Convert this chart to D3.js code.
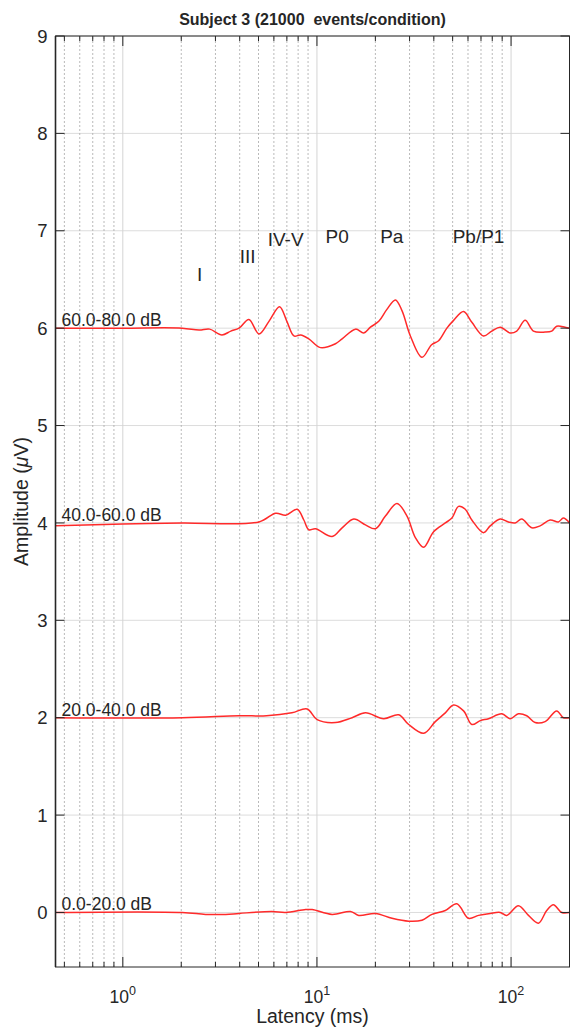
<!DOCTYPE html>
<html>
<head>
<meta charset="utf-8">
<script src="https://cdn.jsdelivr.net/npm/d3@7"></script>
<style>
  body { margin: 0; background: #fff; }
  text { font-family: "Liberation Sans", Arial, sans-serif; fill: #262626; }
</style>
</head>
<body>
<div id="chart"></div>
<script>
// condition labels and their vertical offsets (uV)
var conditions = ["0.0-20.0 dB", "20.0-40.0 dB", "40.0-60.0 dB", "60.0-80.0 dB"];
var offsets = [0, 2, 4, 6];

// waveforms: [latency ms, amplitude uV]
var wave0 = [[0.45,0],[2.02,0.0],[2.67,-0.02],[3.39,-0.02],[3.97,-0.01],[5.86,0.01],[6.9,0.0],[8.74,0.03],[9.45,0.03],
  [11.97,-0.02],[14.89,0.01],[16.42,-0.03],[20.01,-0.01],[24.36,-0.06],[29.69,-0.09],[34.75,-0.08],[39.11,-0.02],
  [45.84,0.02],[52.58,0.09],[60.4,-0.06],[68,-0.03],[78.08,-0.01],[87.9,0.0],[95,-0.03],[109.1,0.07],[122.9,-0.03],
  [138.3,-0.11],[152.6,0.02],[165.2,0.08],[182.3,0.0],[200,0.0]];
var wave1 = [[0.45,0],[2.02,0.0],[3.97,0.02],[5.5,0.02],[7.43,0.05],[8.9,0.09],[10.02,-0.02],[12.46,-0.05],[15.17,0.0],
  [17.78,0.05],[22.08,-0.01],[26.37,0.03],[29.69,-0.07],[35.45,-0.16],[40.72,-0.04],[45.84,0.05],[50.57,0.13],
  [56.93,0.07],[62.8,-0.07],[69.37,-0.03],[76.53,-0.01],[89.6,0.04],[98.95,-0.01],[109.1,0.04],[120.4,0.02],
  [133,-0.05],[149.8,-0.04],[171.8,0.07],[185.9,0.0],[200,0.0]];
var wave2 = [[0.45,-0.03],[1,-0.01],[2.02,0.0],[5.03,0.01],[6.13,0.10],[6.9,0.08],[7.91,0.14],[8.56,0.03],[9.08,-0.07],
  [9.83,-0.06],[11.97,-0.14],[13.48,-0.05],[15.48,0.04],[17.78,-0.02],[20.01,-0.06],[22.53,0.07],[25.85,0.20],
  [29.1,0.07],[32.13,-0.15],[35.45,-0.25],[39.9,-0.09],[45.84,0.0],[49.56,0.05],[53.65,0.17],[58.08,0.14],
  [62.8,0.03],[72.13,-0.10],[78.08,-0.03],[87.9,0.04],[96.97,0.01],[105,0.0],[113.5,0.04],[127.8,-0.05],
  [141.1,-0.03],[158.9,0.03],[175.3,0.01],[185.9,0.05],[200,0.0]];
var wave3 = [[0.45,0],[1,0.0],[2.02,0.0],[2.47,-0.02],[2.8,-0.01],[3.24,-0.07],[3.6,-0.03],[3.97,0.0],[4.46,0.09],
  [5.03,-0.06],[5.66,0.07],[6.42,0.22],[7.0,0.07],[7.61,-0.08],[8.24,-0.07],[9.08,-0.11],[10.43,-0.20],[12.46,-0.16],
  [13.48,-0.11],[15.8,-0.01],[17.42,-0.05],[18.86,0.01],[20.82,0.07],[22.88,0.19],[25.36,0.29],[27.42,0.18],
  [30.29,-0.08],[34.75,-0.30],[38.96,-0.17],[42.34,-0.13],[46.71,0.0],[50.57,0.08],[56.93,0.17],[62.8,0.06],
  [72.13,-0.08],[79.58,-0.03],[87.9,0.01],[98.95,-0.05],[106.97,-0.03],[118.2,0.08],[130.4,-0.03],[149.8,-0.04],
  [161.9,-0.03],[171.8,0.02],[189.7,0.01],[200,0.0]];
var waves = [wave0, wave1, wave2, wave3];

// peak labels (latency ms, amplitude uV)
var peakNames = ["I", "III", "IV-V", "P0", "Pa", "Pb/P1"];
var peakLat = [2.49, 4.4, 6.9, 12.7, 24.3, 68];
var peakAmp = [6.48, 6.67, 6.84, 6.875, 6.875, 6.875];

var yTicks = [0, 1, 2, 3, 4, 5, 6, 7, 8, 9];
var decades = [1, 10, 100];
var minorTicks = [0.5,0.6,0.7,0.8,0.9,2,3,4,5,6,7,8,9,20,30,40,50,60,70,80,90,200];

var W = 570, H = 1031;
var margin = {top: 36, right: 0.5, bottom: 64, left: 55.5};

var svg = d3.select("#chart").append("svg")
    .attr("width", W).attr("height", H);

var x = d3.scaleLog().domain([0.45, 200]).range([margin.left, W - margin.right]);
var y = d3.scaleLinear().domain([-0.56, 9]).range([H - margin.bottom, margin.top]);

var x0 = x.range()[0], x1 = x.range()[1], y0 = y.range()[0], y1 = y.range()[1];

// grid
var grid = svg.append("g");
grid.selectAll(".hg").data(yTicks).enter().append("line")
    .attr("x1", x0).attr("x2", x1)
    .attr("y1", d => y(d)).attr("y2", d => y(d))
    .attr("stroke", "#dcdcdc").attr("stroke-width", 1);
grid.selectAll(".vg").data(decades).enter().append("line")
    .attr("x1", d => x(d)).attr("x2", d => x(d))
    .attr("y1", y0).attr("y2", y1)
    .attr("stroke", "#d4d4d4").attr("stroke-width", 1);
grid.selectAll(".vm").data(minorTicks).enter().append("line")
    .attr("x1", d => x(d)).attr("x2", d => x(d))
    .attr("y1", y0).attr("y2", y1)
    .attr("stroke", "#a8a8a8").attr("stroke-width", 0.8)
    .attr("stroke-dasharray", "2,2");

// waveforms
var line = d3.line()
    .x(d => x(d[0]))
    .y(d => y(d[1]))
    .curve(d3.curveCatmullRom.alpha(0.5));

waves.forEach(function(w, i) {
  var pts = w.map(p => [p[0], p[1] + offsets[i]]);
  svg.append("path")
    .attr("d", line(pts))
    .attr("fill", "none")
    .attr("stroke", "#ff2a2a")
    .attr("stroke-width", 1.5);
});

// frame and ticks
var ax = svg.append("g").attr("stroke", "#262626");
ax.append("rect")
    .attr("x", x0).attr("y", y1)
    .attr("width", x1 - x0).attr("height", y0 - y1)
    .attr("fill", "none").attr("stroke-width", 1);
ax.append("line").attr("x1", x0).attr("x2", x0).attr("y1", y1).attr("y2", y0).attr("stroke-width", 1.6);

yTicks.forEach(function(t) {
  ax.append("line").attr("x1", x0).attr("x2", x0 + 9).attr("y1", y(t)).attr("y2", y(t));
  ax.append("line").attr("x1", x1 - 9).attr("x2", x1).attr("y1", y(t)).attr("y2", y(t));
});
decades.forEach(function(t) {
  ax.append("line").attr("x1", x(t)).attr("x2", x(t)).attr("y1", y0).attr("y2", y0 - 10);
  ax.append("line").attr("x1", x(t)).attr("x2", x(t)).attr("y1", y1).attr("y2", y1 + 10);
});
minorTicks.forEach(function(t) {
  ax.append("line").attr("x1", x(t)).attr("x2", x(t)).attr("y1", y0).attr("y2", y0 - 5);
  ax.append("line").attr("x1", x(t)).attr("x2", x(t)).attr("y1", y1).attr("y2", y1 + 5);
});

// tick labels
svg.selectAll(".yl").data(yTicks).enter().append("text")
    .attr("x", x0 - 8).attr("y", d => y(d))
    .attr("dy", "0.36em")
    .attr("text-anchor", "end")
    .attr("font-size", 18.5)
    .text(d => d);

decades.forEach(function(t, i) {
  var tx = svg.append("text")
    .attr("x", x(t)).attr("y", y0 + 36)
    .attr("text-anchor", "middle")
    .attr("font-size", 17.5);
  tx.append("tspan").text("10");
  tx.append("tspan").attr("font-size", 12.5).attr("dy", -8).text(i);
});

// axis titles
svg.append("text")
    .attr("x", (x0 + x1) / 2).attr("y", 25)
    .attr("text-anchor", "middle")
    .attr("font-size", 16).attr("font-weight", "bold")
    .style("white-space", "pre")
    .text("Subject 3 (21000  events/condition)");

svg.append("text")
    .attr("x", (x0 + x1) / 2).attr("y", H - 8)
    .attr("text-anchor", "middle")
    .attr("font-size", 19.5)
    .text("Latency (ms)");

var yl = svg.append("text")
    .attr("transform", "translate(28," + ((y0 + y1) / 2) + ") rotate(-90)")
    .attr("text-anchor", "middle")
    .attr("font-size", 19.5);
yl.append("tspan").text("Amplitude (");
yl.append("tspan").attr("font-style", "italic").text("\u03bc");
yl.append("tspan").text("V)");

// condition labels
svg.selectAll(".cl").data(conditions).enter().append("text")
    .attr("x", x0 + 6)
    .attr("y", (d, i) => y(offsets[i]) - 2)
    .attr("font-size", 17.5)
    .text(d => d);

// peak labels
svg.selectAll(".pk").data(peakNames).enter().append("text")
    .attr("x", (d, i) => x(peakLat[i]))
    .attr("y", (d, i) => y(peakAmp[i]))
    .attr("text-anchor", "middle")
    .attr("font-size", 19)
    .text(d => d);
</script>
</body>
</html>
